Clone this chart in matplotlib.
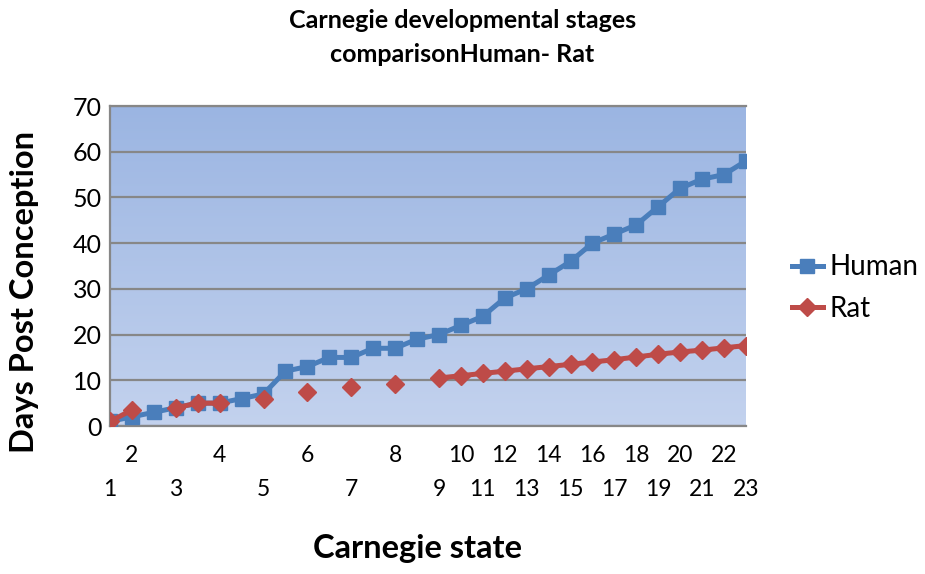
import numpy as np
import matplotlib.pyplot as plt
from matplotlib.colors import LinearSegmentedColormap

plt.rcParams['font.family'] = ['Lato', 'DejaVu Sans']

# Carnegie stage categories (blank slots sit between the early stages)
stages = ['1', '2', '', '3', '', '4', '', '5', '', '6', '', '7', '', '8', '',
          '9', '10', '11', '12', '13', '14', '15', '16', '17', '18', '19',
          '20', '21', '22', '23']

# Days post conception
human = [1, 2, 3, 4, 5, 5, 6, 7, 12, 13, 15, 15, 17, 17, 19,
         20, 22, 24, 28, 30, 33, 36, 40, 42, 44, 48, 52, 54, 55, 58]
rat = [1, 3.5, np.nan, 4, 5, 5, np.nan, 6, np.nan, 7.5, np.nan, 8.6, np.nan, 9.1, np.nan,
       10.5, 11, 11.5, 12, 12.5, 13, 13.5, 14, 14.5, 15.1, 15.7, 16.2, 16.6, 17.1, 17.6]

x = np.arange(len(stages))

fig = plt.figure(figsize=(9.25, 5.74), dpi=100)
ax = fig.add_axes([110 / 925, 148 / 574, 636 / 925, 320 / 574])

ax.set_xlim(0, len(stages) - 1)
ax.set_ylim(0, 70)

# vertical blue gradient fill
cmap = LinearSegmentedColormap.from_list('bg', ['#c3d2ee', '#9bb5e2'])
grad = np.linspace(0, 1, 256).reshape(-1, 1)
ax.imshow(grad, cmap=cmap, origin='lower', aspect='auto',
          extent=[0, len(stages) - 1, 0, 70], zorder=0)

ax.plot(x, human, color='#4a7ebb', lw=3.6, marker='s', ms=10.5,
        mec='#4a7ebb', label='Human', zorder=3)
ax.plot(x, rat, color='#be4b48', lw=3.6, marker='D', ms=9,
        mec='#be4b48', label='Rat', zorder=4)

ax.set_yticks(range(0, 71, 10))
ax.yaxis.grid(True, color='#878787', lw=1.6, zorder=1)
ax.tick_params(axis='y', length=0, pad=6, labelsize=18)

# odd stages on the lower row, even stages on the upper row
lower = [i for i, s in enumerate(stages) if s and int(s) % 2 == 1]
upper = [i for i, s in enumerate(stages) if s and int(s) % 2 == 0]
ax.set_xticks(lower)
ax.set_xticklabels([stages[i] for i in lower])
ax.set_xticks(upper, minor=True)
ax.set_xticklabels([stages[i] for i in upper], minor=True)
ax.tick_params(axis='x', which='major', length=0, pad=38, labelsize=16.5)
ax.tick_params(axis='x', which='minor', length=0, pad=14, labelsize=16.5)

for side in ['left', 'bottom', 'top']:
    ax.spines[side].set_color('#878787')
    ax.spines[side].set_linewidth(1.6)
ax.spines['right'].set_visible(False)

ax.set_xlabel('Carnegie state', fontsize=23.5, fontweight='bold')
ax.xaxis.set_label_coords(0.483, -0.382)
ax.xaxis.label.set_va('center')
ax.set_ylabel('Days Post Conception', fontsize=23.5, fontweight='bold')
ax.yaxis.set_label_coords(-0.134, 0.42)
ax.yaxis.label.set_va('center')

fig.suptitle('Carnegie developmental stages\ncomparisonHuman- Rat',
             x=0.5, y=0.985, fontsize=18, fontweight='bold', linespacing=1.6)

fig.legend(loc='center left', bbox_to_anchor=(781 / 925, 1 - 288 / 574),
           frameon=False, fontsize=20, handlelength=1.1, handletextpad=0.25,
           labelspacing=0.55, borderaxespad=0)

fig.savefig('out.png', dpi=100)
